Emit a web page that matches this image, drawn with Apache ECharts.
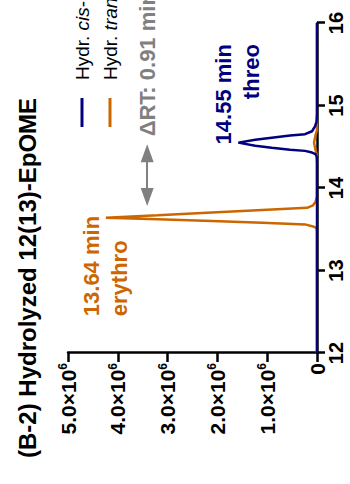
<!DOCTYPE html>
<html>
<head>
<meta charset="utf-8">
<title>Hydrolyzed 12(13)-EpOME</title>
<script src="https://cdn.jsdelivr.net/npm/echarts@6.0.0/dist/echarts.min.js"></script>
<style>
  html, body { margin: 0; padding: 0; width: 350px; height: 484px; overflow: hidden; background: #fff; }
  /* the chart is laid out landscape and turned a quarter counter-clockwise */
  #chart { position: absolute; left: 0; top: 0; width: 484px; height: 350px;
           transform-origin: 0 0; transform: translateY(484px) rotate(-90deg); }
</style>
</head>
<body>
<div id="chart"></div>
<script>
const FONT = '"Liberation Sans", Arial, Helvetica, sans-serif';
const NAVY = '#000080';
const ORANGE = '#CC6600';
const GRAY = '#808080';

const seriesNames = ['Hydr. cis-12(13)-EpOME', 'Hydr. trans-12(13)-EpOME'];

// axis ticks: retention time (min) and intensity (counts)
const timeTicks = [12, 13, 14, 15, 16];
const intensityTicks = [0, 1e6, 2e6, 3e6, 4e6, 5e6];

// peak apexes: [cis -> threo, trans -> erythro]
const peakTimes = [14.55, 13.64];
const peakHeights = [1.58e6, 4.24e6];
const peakNames = ['threo', 'erythro'];

// hydrolyzed cis-epoxide trace
const cisTime = [12.00, 14.30, 14.38, 14.41, 14.43, 14.45, 14.465, 14.489, 14.511, 14.55,
                 14.584, 14.61, 14.635, 14.652, 14.688, 14.748, 14.80, 14.90, 16.00];
const cisIntensity = [0, 0, 0.005e6, 0.03e6, 0.10e6, 0.24e6, 0.54e6, 0.91e6, 1.24e6, 1.58e6,
                      1.24e6, 0.91e6, 0.54e6, 0.24e6, 0.10e6, 0.04e6, 0.01e6, 0, 0];

// hydrolyzed trans-epoxide trace
const transTime = [12.00, 13.47, 13.50, 13.517, 13.534, 13.559, 13.578, 13.599, 13.62, 13.64,
                   13.671, 13.704, 13.734, 13.76, 13.79, 13.83, 13.90, 14.40, 14.46, 14.55,
                   14.64, 14.70, 16.00];
const transIntensity = [0, 0, 0.005e6, 0.02e6, 0.08e6, 0.24e6, 1.10e6, 2.11e6, 3.20e6, 4.24e6,
                        3.20e6, 2.11e6, 1.10e6, 0.20e6, 0.08e6, 0.03e6, 0, 0, 0.03e6, 0.06e6,
                        0.03e6, 0, 0];

// double-headed arrow between the two peaks
const arrowTimes = [13.89, 14.42];
const arrowLevel = 3.41e6;

const zip = (xs, ys) => xs.map((x, i) => [x, ys[i]]);

const chart = echarts.init(document.getElementById('chart'), null, { renderer: 'svg' });

const peakLabel = (i, offsetX, align, color) => ({
  silent: true,
  symbol: 'circle',
  symbolSize: 1,
  itemStyle: { color: 'rgba(0,0,0,0)' },
  label: {
    show: true,
    position: [offsetX, 0],
    align: align,
    verticalAlign: 'middle',
    formatter: () => peakTimes[i].toFixed(2) + ' min\n' + peakNames[i],
    fontFamily: FONT,
    fontSize: 22,
    fontWeight: 'bold',
    lineHeight: 28,
    color: color
  },
  data: [{ coord: [peakTimes[i], peakHeights[i]] }]
});

const supLabel = v => {
  if (v === 0) return '0';
  return '{b|' + (v / 1e6).toFixed(1) + '×10}{s|6}';
};

chart.setOption({
  animation: false,
  backgroundColor: '#fff',
  title: {
    text: '(B-2) Hydrolyzed 12(13)-EpOME',
    left: 21,
    top: 10,
    textStyle: { fontFamily: FONT, fontSize: 24, fontWeight: 'bold', color: '#000' }
  },
  legend: {
    orient: 'vertical',
    left: 352,
    top: 63,
    itemWidth: 29,
    itemHeight: 3,
    itemGap: 0,
    icon: 'rect',
    selectedMode: false,
    data: seriesNames,
    formatter: n => n.replace(/(cis|trans)/, '{i|$1}'),
    textStyle: {
      fontFamily: FONT, fontSize: 19, color: '#000', lineHeight: 28,
      padding: [0, 0, 0, 13],
      rich: { i: { fontFamily: FONT, fontSize: 19, fontStyle: 'italic', color: '#000', lineHeight: 28 } }
    }
  },
  grid: { left: 131, right: 23, top: 68, bottom: 33 },
  xAxis: {
    type: 'value',
    min: timeTicks[0],
    max: timeTicks[timeTicks.length - 1],
    interval: timeTicks[1] - timeTicks[0],
    splitLine: { show: false },
    axisLine: { lineStyle: { color: '#000', width: 2.5 } },
    axisTick: { length: 8, lineStyle: { color: '#000', width: 2.5 } },
    axisLabel: { margin: 9, fontFamily: FONT, fontSize: 20, fontWeight: 'bold', color: '#000' }
  },
  yAxis: {
    type: 'value',
    min: intensityTicks[0],
    max: intensityTicks[intensityTicks.length - 1],
    interval: intensityTicks[1] - intensityTicks[0],
    splitLine: { show: false },
    axisLine: { show: true, lineStyle: { color: '#000', width: 2.5 } },
    axisTick: { show: true, length: 9, lineStyle: { color: '#000', width: 2.5 } },
    axisLabel: {
      margin: 10,
      fontFamily: FONT, fontSize: 21, fontWeight: 'bold', color: '#000',
      formatter: supLabel,
      rich: {
        b: { fontFamily: FONT, fontSize: 21, fontWeight: 'bold', color: '#000', lineHeight: 22 },
        s: { fontFamily: FONT, fontSize: 12, fontWeight: 'bold', color: '#000', verticalAlign: 'top', lineHeight: 22 }
      }
    }
  },
  series: [
    {
      name: seriesNames[1],
      type: 'line',
      data: zip(transTime, transIntensity),
      symbol: 'none',
      showSymbol: false,
      color: ORANGE,
      lineStyle: { color: ORANGE, width: 2.5 },
      emphasis: { disabled: true },
      z: 2,
      markPoint: peakLabel(1, -98, 'left', ORANGE),
      markLine: {
        silent: true,
        symbol: ['triangle', 'triangle'],
        symbolSize: [13, 18],
        lineStyle: { color: GRAY, width: 2, type: 'solid' },
        itemStyle: { color: GRAY },
        label: {
          show: true,
          position: 'end',
          distance: 17,
          formatter: () => 'ΔRT: ' + (peakTimes[0] - peakTimes[1]).toFixed(2) + ' min',
          fontFamily: FONT, fontSize: 22, fontWeight: 'bold', color: GRAY
        },
        data: [[{ coord: [arrowTimes[0], arrowLevel] }, { coord: [arrowTimes[1], arrowLevel] }]]
      }
    },
    {
      name: seriesNames[0],
      type: 'line',
      data: zip(cisTime, cisIntensity),
      symbol: 'none',
      showSymbol: false,
      color: NAVY,
      lineStyle: { color: NAVY, width: 2.5 },
      emphasis: { disabled: true },
      z: 3,
      markPoint: peakLabel(0, 99, 'right', NAVY)
    }
  ]
});
</script>
</body>
</html>
